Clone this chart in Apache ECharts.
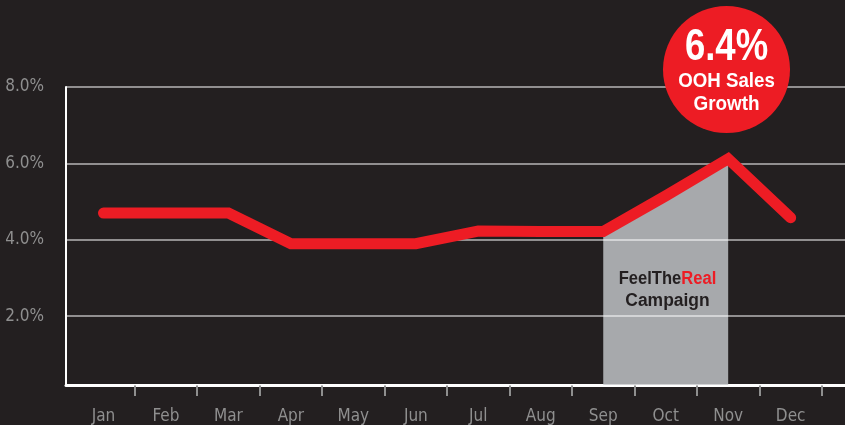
<!DOCTYPE html>
<html>
<head>
<meta charset="utf-8">
<script src="https://cdn.jsdelivr.net/npm/echarts@6/dist/echarts.min.js"></script>
<style>
html,body{margin:0;padding:0;background:#231f20;}
#c{width:845px;height:425px;}
</style>
</head>
<body>
<div id="c"></div>
<script>
var months = ['Jan','Feb','Mar','Apr','May','Jun','Jul','Aug','Sep','Oct','Nov','Dec'];
var growth = [4.7, 4.7, 4.7, 3.9, 3.9, 3.9, 4.23, 4.22, 4.22, 5.15, 6.12, 4.58];
var campaignMonths = ['Sep','Oct','Nov'];
var yTicks = [2, 4, 6, 8];
var badgeLines = ['6.4%', 'OOH Sales', 'Growth'];
var campaignLabel = ['FeelThe', 'Real', 'Campaign'];

var FONT = '"DejaVu Sans Condensed", "DejaVu Sans", sans-serif';
var BFONT = '"Liberation Sans", Arial, sans-serif';
var RED = '#ed1c24';
var BG = '#231f20';
var LABEL = '#8f8f8f';

var lineData = growth.map(function (v, i) { return [i, v]; });
var areaData = growth.map(function (v, i) {
  return campaignMonths.indexOf(months[i]) >= 0 ? [i, v] : [i, null];
}).filter(function (d) { return d[1] !== null; });

var tickVals = months.map(function (m, i) { return i + 0.5; });
var labelVals = months.map(function (m, i) { return i; });

var chart = echarts.init(document.getElementById('c'), null, {renderer: 'canvas'});
chart.setOption({
  backgroundColor: BG,
  animation: false,
  grid: {left: 66, right: 0, top: 87, bottom: 40, containLabel: false},
  xAxis: {
    type: 'value',
    min: -0.6,
    max: 11.87,
    splitLine: {show: false},
    axisLine: {show: true, onZero: false, lineStyle: {color: '#ffffff', width: 3}},
    axisTick: {show: true, customValues: tickVals, length: 11, lineStyle: {color: LABEL, width: 2}},
    axisLabel: {
      show: true, customValues: labelVals, margin: 23,
      color: LABEL, fontFamily: FONT, fontSize: 17,
      formatter: function (v) { return months[Math.round(v)] || ''; }
    }
  },
  yAxis: {
    type: 'value',
    min: 0.2,
    max: 8,
    splitNumber: 4,
    z: 3,
    axisLine: {show: true, onZero: false, lineStyle: {color: '#ffffff', width: 2}},
    axisTick: {show: false},
    splitLine: {show: true, lineStyle: {color: 'rgba(255,255,255,0.5)', width: 2}},
    axisLabel: {
      margin: 22, color: LABEL, fontFamily: FONT, fontSize: 17,
      formatter: function (v) {
        return yTicks.indexOf(Math.round(v * 100) / 100) >= 0 ? v.toFixed(1) + '%' : '';
      }
    }
  },
  series: [
    {
      type: 'line',
      data: areaData,
      z: 1,
      showSymbol: false,
      silent: true,
      lineStyle: {width: 0},
      areaStyle: {color: '#a7a9ac', opacity: 1, origin: 'start'}
    },
    {
      type: 'line',
      data: lineData,
      z: 5,
      showSymbol: false,
      silent: true,
      lineStyle: {color: RED, width: 11, cap: 'round', join: 'miter'}
    }
  ],
  graphic: [
    {type: 'circle', shape: {cx: 726.5, cy: 69.5, r: 63.5}, style: {fill: RED}, z: 20},
    {type: 'text', x: 726.5, y: 48, scaleX: 0.83, z: 21, style: {text: badgeLines[0], fill: '#fff', font: 'bold 44px ' + BFONT, textAlign: 'center', textVerticalAlign: 'middle'}},
    {type: 'text', x: 726.5, y: 81.5, scaleX: 0.89, z: 21, style: {text: badgeLines[1], fill: '#fff', font: 'bold 21px ' + BFONT, textAlign: 'center', textVerticalAlign: 'middle'}},
    {type: 'text', x: 726.5, y: 104, scaleX: 0.9, z: 21, style: {text: badgeLines[2], fill: '#fff', font: 'bold 21px ' + BFONT, textAlign: 'center', textVerticalAlign: 'middle'}},
    {type: 'text', x: 667.5, y: 279, scaleX: 0.92, z: 21, style: {
      text: '{a|' + campaignLabel[0] + '}{b|' + campaignLabel[1] + '}',
      textAlign: 'center', textVerticalAlign: 'middle',
      rich: {
        a: {fill: BG, font: 'bold 18px ' + BFONT},
        b: {fill: RED, font: 'bold 18px ' + BFONT}
      }
    }},
    {type: 'text', x: 667.5, y: 301, scaleX: 0.97, z: 21, style: {text: campaignLabel[2], fill: BG, font: 'bold 18px ' + BFONT, textAlign: 'center', textVerticalAlign: 'middle'}}
  ]
});
</script>
</body>
</html>
